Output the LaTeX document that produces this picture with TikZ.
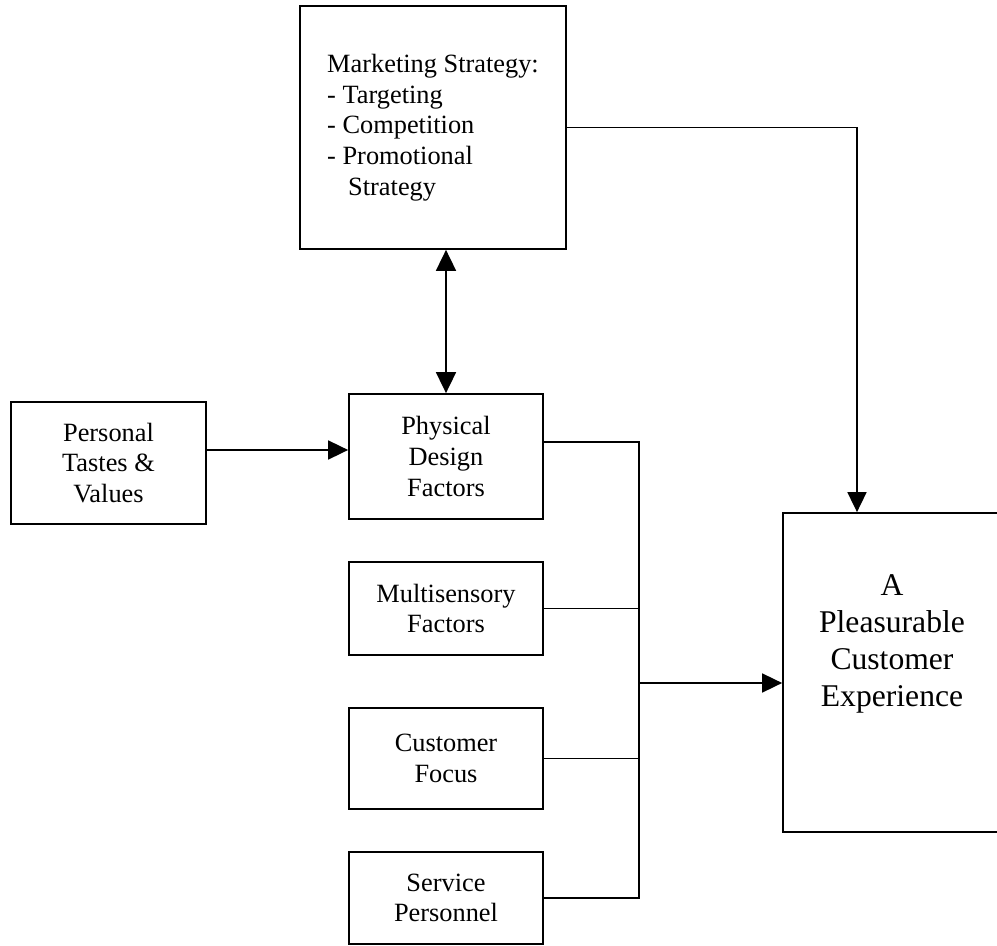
\documentclass[tikz,border=0pt]{standalone}
\usepackage{fontspec}
\setmainfont{Liberation Serif}
\usetikzlibrary{arrows.meta}
\begin{document}
\begin{tikzpicture}[
	box/.style={draw=black, line width=1pt, align=center, inner sep=0pt, font=\fontsize{15}{17.5}\selectfont},
	arr/.style={line width=1pt, -{Triangle[length=0.4cm,width=0.38cm]}},
	line/.style={line width=1pt}]
	
	\useasboundingbox (0,0) rectangle (19.94,18.9);
	\node[box, minimum width=5.32cm, minimum height=4.86cm, align=left] (mkt) at (8.66,16.35) {Marketing Strategy:\\- Targeting\\- Competition\\- Promotional\\\hspace*{0.42cm}Strategy};
	\node[box, minimum width=3.9cm, minimum height=2.44cm] (pers) at (2.17,9.64) {Personal\\Tastes \&\\Values};
	\node[box, minimum width=3.88cm, minimum height=2.5cm] (phys) at (8.92,9.77) {Physical\\Design\\Factors};
	\node[box, minimum width=3.88cm, minimum height=1.86cm] (multi) at (8.92,6.73) {Multisensory\\Factors};
	\node[box, minimum width=3.88cm, minimum height=2.02cm] (focus) at (8.92,3.73) {Customer\\Focus};
	\node[box, minimum width=3.88cm, minimum height=1.84cm] (service) at (8.92,0.94) {Service\\Personnel};
	\node[box, minimum width=4.36cm, minimum height=6.38cm,
		label={[align=center, anchor=north, inner sep=0pt, yshift=-1.24cm, font=\fontsize{18}{21}\selectfont]north:A\\Pleasurable\\Customer\\Experience}] (exp) at (17.84,5.45) {};
	
	\coordinate (bus) at (12.78,5.24);
	\draw[arr] (mkt.east) -| ([xshift=-0.7cm]exp.north);
	\draw[line width=1pt, {Triangle[length=0.42cm,width=0.4cm]}-{Triangle[length=0.42cm,width=0.4cm]}] (mkt.south -| phys.north) -- (phys.north);
	\draw[arr] ([yshift=0.26cm]pers.east) -- ([yshift=0.13cm]phys.west);
	\draw[line] ([yshift=0.29cm]phys.east) -| (bus |- service.east) -- (service.east);
	\draw[line] (multi.east) -- (multi.east -| bus);
	\draw[line] (focus.east) -- (focus.east -| bus);
	\draw[arr] (bus) -- (bus -| exp.west);
\end{tikzpicture}
\end{document}
